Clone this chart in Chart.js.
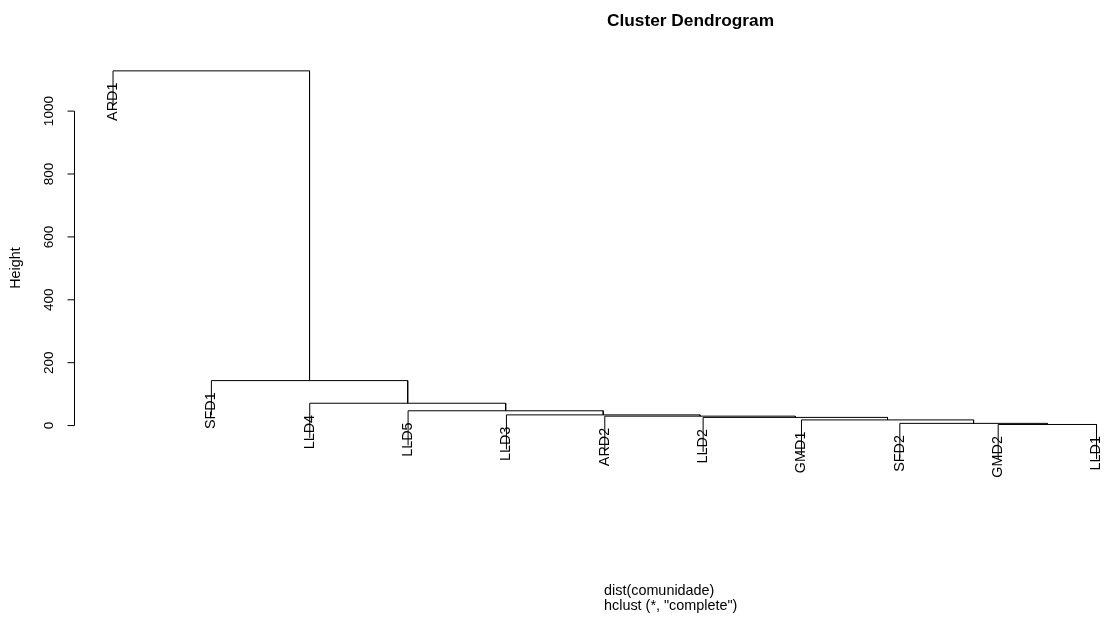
<!DOCTYPE html>
<html>
<head>
<meta charset="utf-8">
<script src="https://cdn.jsdelivr.net/npm/chart.js@4/dist/chart.umd.min.js"></script>
<style>
  html, body { margin: 0; padding: 0; background: #fff; }
  #wrap { width: 1104px; height: 617px; }
</style>
</head>
<body>
<div id="wrap"><canvas id="dendro" width="1104" height="617"></canvas></div>
<script>
// leaves in plotting order
const leafLabels = ["ARD1", "SFD1", "LLD4", "LLD5", "LLD3", "ARD2", "LLD2", "GMD1", "SFD2", "GMD2", "LLD1"];

// merge table, R style: negative = leaf (1-based position), positive = earlier merge
const mergeA = [-10, -9, -8, -7, -6, -5, -4, -3, -2, -1];
const mergeB = [-11, 1, 2, 3, 4, 5, 6, 7, 8, 9];
const mergeHeight = [3.5, 7, 18, 26, 30, 34, 47, 71, 143, 1128];

const yTicks = [0, 200, 400, 600, 800, 1000];

const HANG_LINE = 110;  // leaf segment length, height units
const HANG_LABEL = 37;  // label end below parent merge
const FONT = "'Liberation Sans', Arial, sans-serif";

// work out node positions
const nodeX = [];
const childPos = (id) => id < 0 ? -id : nodeX[id - 1];

const leafParentHeight = [];
const datasets = mergeHeight.map((h, i) => {
  const a = mergeA[i], b = mergeB[i];
  const xa = childPos(a), xb = childPos(b);
  nodeX.push((xa + xb) / 2);

  const bottom = (id) => {
    if (id < 0) {
      leafParentHeight[-id - 1] = h;
      return h - HANG_LINE;
    }
    return mergeHeight[id - 1];
  };

  return {
    data: [
      { x: xa, y: bottom(a) },
      { x: xa, y: h },
      { x: xb, y: h },
      { x: xb, y: bottom(b) },
    ],
    showLine: true,
    borderColor: "#000",
    borderWidth: 1,
    pointRadius: 0,
    tension: 0,
  };
});

const decorations = {
  id: "decorations",
  afterDraw(chart) {
    const { ctx, scales } = chart;
    const xs = scales.x, ys = scales.y;
    ctx.save();
    ctx.fillStyle = "#000";
    ctx.strokeStyle = "#000";
    ctx.lineWidth = 1;

    // leaf labels, rotated
    ctx.font = "14.4px " + FONT;
    ctx.textAlign = "right";
    ctx.textBaseline = "middle";
    leafLabels.forEach((lab, i) => {
      const px = xs.getPixelForValue(i + 1);
      const py = ys.getPixelForValue(leafParentHeight[i] - HANG_LABEL);
      ctx.save();
      ctx.translate(px, py);
      ctx.rotate(-Math.PI / 2);
      ctx.fillText(lab, 0, 0);
      ctx.restore();
    });

    // y axis
    const ax = Math.round(chart.chartArea.left) + 0.5;
    ctx.beginPath();
    ctx.moveTo(ax, ys.getPixelForValue(yTicks[0]));
    ctx.lineTo(ax, ys.getPixelForValue(yTicks[yTicks.length - 1]));
    yTicks.forEach((t) => {
      const py = ys.getPixelForValue(t);
      ctx.moveTo(ax - 7, py);
      ctx.lineTo(ax, py);
    });
    ctx.stroke();

    ctx.font = "13.5px " + FONT;
    ctx.textAlign = "center";
    ctx.textBaseline = "middle";
    yTicks.forEach((t) => {
      ctx.save();
      ctx.translate(49, ys.getPixelForValue(t));
      ctx.rotate(-Math.PI / 2);
      ctx.fillText(String(t), 0, 0);
      ctx.restore();
    });

    // axis title
    ctx.save();
    ctx.font = "14.4px " + FONT;
    ctx.translate(16, 268);
    ctx.rotate(-Math.PI / 2);
    ctx.fillText("Height", 0, 0);
    ctx.restore();

    // main title
    ctx.font = "bold 17.3px " + FONT;
    ctx.fillText("Cluster Dendrogram", 690.5, 21);

    // sub titles
    ctx.font = "14.4px " + FONT;
    ctx.textAlign = "left";
    ctx.fillText("dist(comunidade)", 604, 591);
    ctx.fillText('hclust (*, "complete")', 604, 606);

    ctx.restore();
  },
};

new Chart(document.getElementById("dendro"), {
  type: "scatter",
  data: { datasets },
  options: {
    responsive: false,
    animation: false,
    layout: {
      padding: { left: 73.7, right: 0, top: 60.8, bottom: 147.4 },
    },
    scales: {
      x: { type: "linear", min: 0.6, max: 11.076, display: false },
      y: { type: "linear", min: -140, max: 1160, display: false },
    },
    plugins: {
      legend: { display: false },
      tooltip: { enabled: false },
      title: { display: false },
    },
  },
  plugins: [decorations],
});
</script>
</body>
</html>
